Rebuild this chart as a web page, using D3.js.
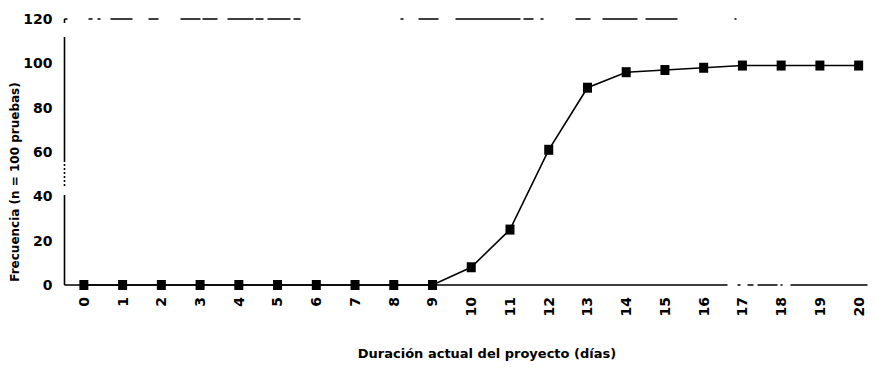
<!DOCTYPE html>
<html>
<head>
<meta charset="utf-8">
<script src="https://cdn.jsdelivr.net/npm/d3@7"></script>
<style>
  html, body { margin: 0; padding: 0; background: #fff; }
  svg { display: block; }
  text { font-family: "DejaVu Sans", Arial, sans-serif; font-weight: bold; fill: #000; }
</style>
</head>
<body>
<svg id="chart" width="875" height="368"></svg>
<script>
const categories = ["0","1","2","3","4","5","6","7","8","9","10","11","12","13","14","15","16","17","18","19","20"];
const frecuencia = [0,0,0,0,0,0,0,0,0,0,8,25,61,89,96,97,98,99,99,99,99];
const yTicks = [0,20,40,60,80,100,120];
const xTitle = "Duración actual del proyecto (días)";
const yTitle = "Frecuencia (n = 100 pruebas)";

(function () {
const svg = d3.select("#chart");
const mLeft = 64.5, mRight = 878, mTop = 19, mBottom = 285;

const x = d3.scaleBand().domain(categories).range([mLeft, mRight]).padding(0);
const y = d3.scaleLinear().domain([0, 120]).range([mBottom, mTop]);
const cx = d => x(d) + x.bandwidth() / 2;

// worn, scanned-looking line styles (dash patterns only)
const topDash = "3,21,4,5,3,10,22,16,10,22,20,2,15,10,26,2,8,4,23,3,7,100,3,15,20,17,65,3,10,7,3,32,15,12,35,8,32,57,2,1000";
const yAxisDash = "4,14,125,2,2,2,2,2,2,2,2,2,2,2,2,9,200";
const xAxisDash = "663,10,3,7,6,4,20,3,2,8,77,1000";

// top line at 120
svg.append("line")
  .attr("x1", mLeft).attr("x2", 745)
  .attr("y1", y(120)).attr("y2", y(120))
  .attr("stroke", "#000").attr("stroke-width", 1.4)
  .attr("stroke-dasharray", topDash);

// y axis line
svg.append("line")
  .attr("x1", mLeft).attr("x2", mLeft)
  .attr("y1", y(120)).attr("y2", y(0))
  .attr("stroke", "#000").attr("stroke-width", 1.6)
  .attr("stroke-dasharray", yAxisDash);

// x axis line
svg.append("line")
  .attr("x1", mLeft).attr("x2", 870)
  .attr("y1", y(0)).attr("y2", y(0))
  .attr("stroke", "#000").attr("stroke-width", 1.4)
  .attr("stroke-dasharray", xAxisDash);

// y tick labels
const yAxis = d3.axisLeft(y).tickValues(yTicks).tickSize(0).tickPadding(12);
const yg = svg.append("g").attr("transform", `translate(${mLeft},0)`).call(yAxis);
yg.select(".domain").remove();
yg.selectAll("text")
  .style("font-family", '"DejaVu Sans", Arial, sans-serif')
  .style("font-weight", "bold")
  .style("font-size", "14px");

// x tick labels (rotated)
const xAxis = d3.axisBottom(x).tickSize(0).tickPadding(0);
const xg = svg.append("g").attr("transform", `translate(0,${mBottom})`).call(xAxis);
xg.select(".domain").remove();
xg.selectAll("text")
  .style("font-family", '"DejaVu Sans", Arial, sans-serif')
  .style("font-weight", "bold")
  .style("font-size", "14px")
  .attr("transform", "rotate(-90)")
  .attr("x", -12).attr("y", 0).attr("dy", "0.35em")
  .attr("text-anchor", "end");

// line
const line = d3.line().x((d, i) => cx(categories[i])).y(d => y(d));
svg.append("path")
  .datum(frecuencia)
  .attr("d", line)
  .attr("fill", "none")
  .attr("stroke", "#000")
  .attr("stroke-width", 1.6);

// markers
const mw = 9, mh = 10;
svg.selectAll("rect.marker")
  .data(frecuencia)
  .join("rect")
  .attr("class", "marker")
  .attr("x", (d, i) => cx(categories[i]) - mw / 2)
  .attr("y", d => y(d) - mh / 2)
  .attr("width", mw).attr("height", mh)
  .attr("fill", "#000");

// axis titles
svg.append("text")
  .attr("x", 487).attr("y", 358)
  .attr("text-anchor", "middle")
  .style("font-size", "13px")
  .text(xTitle);

svg.append("text")
  .attr("transform", "translate(19,182) rotate(-90)")
  .attr("text-anchor", "middle")
  .style("font-size", "12px")
  .text(yTitle);
})();
</script>
</body>
</html>
